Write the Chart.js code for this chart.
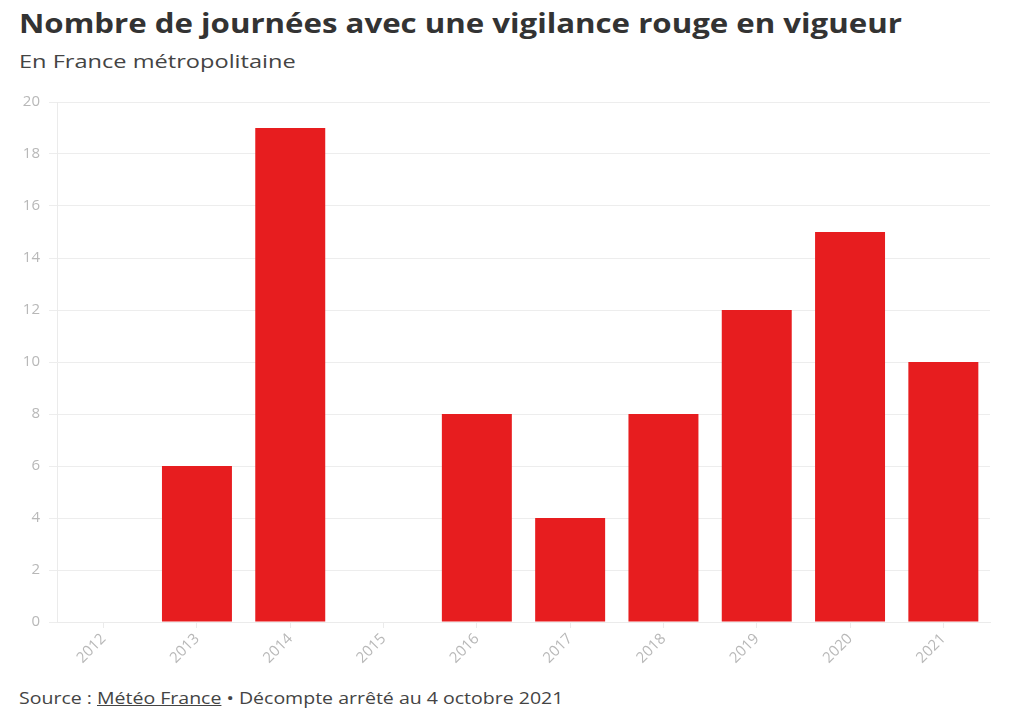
<!DOCTYPE html>
<html><head><meta charset="utf-8">
<script src="https://cdn.jsdelivr.net/npm/chart.js@4"></script>
<style>
html,body{margin:0;padding:0;background:#fff;width:1024px;height:720px;overflow:hidden;font-family:"Open Sans",sans-serif;}
.st{position:absolute;left:19px;transform-origin:0 0;white-space:nowrap;}
#title{top:5px;font-size:26px;font-weight:700;color:#333;transform:scaleX(1.2);}
#sub{top:49px;font-size:18px;color:#444;transform:scaleX(1.31);}
#src{top:687px;font-size:16px;color:#444;transform:scaleX(1.22);}
#src u{text-decoration:underline;}
#wrap{position:absolute;left:0;top:84px;width:1024px;height:592px;}
</style></head><body>
<div id="title" class="st">Nombre de journées avec une vigilance rouge en vigueur</div>
<div id="sub" class="st">En France métropolitaine</div>
<div id="wrap"><canvas id="c"></canvas></div>
<div id="src" class="st">Source : <u>Météo France</u> • Décompte arrêté au 4 octobre 2021</div>
<script>
const categories = ["2012","2013","2014","2015","2016","2017","2018","2019","2020","2021"];
const values = [0,6,19,0,8,4,8,12,15,10];
const yTicks = [0,2,4,6,8,10,12,14,16,18,20];

new Chart(document.getElementById('c'), {
  type: 'bar',
  data: { labels: categories, datasets: [{ data: values, backgroundColor: '#e71d1f', borderWidth: 0, barPercentage: 0.75, categoryPercentage: 1 }] },
  options: {
    responsive: true, maintainAspectRatio: false, animation: false,
    layout: { padding: { left: 0, right: 34, top: 10, bottom: 0 } },
    plugins: { legend: { display: false }, tooltip: { enabled: false } },
    scales: {
      x: {
        afterFit: s => { s.height = 54; },
        grid: { display: true, drawOnChartArea: false, offset: false, color: '#ebebeb', tickLength: 6 },
        border: { color: '#ebebeb' },
        ticks: { color: '#b8b8b8', font: { family: 'Open Sans', size: 15 }, minRotation: 45, maxRotation: 45, padding: 2 }
      },
      y: {
        min: 0, max: 20,
        afterFit: s => { s.width = 57; },
        afterBuildTicks: s => { s.ticks = yTicks.map(v => ({ value: v })); },
        grid: { color: '#ededed', tickLength: 8 },
        border: { color: '#ebebeb' },
        ticks: { color: '#b8b8b8', font: { family: 'Open Sans', size: 15 }, padding: 9 }
      }
    }
  }
});
</script>
</body></html>
